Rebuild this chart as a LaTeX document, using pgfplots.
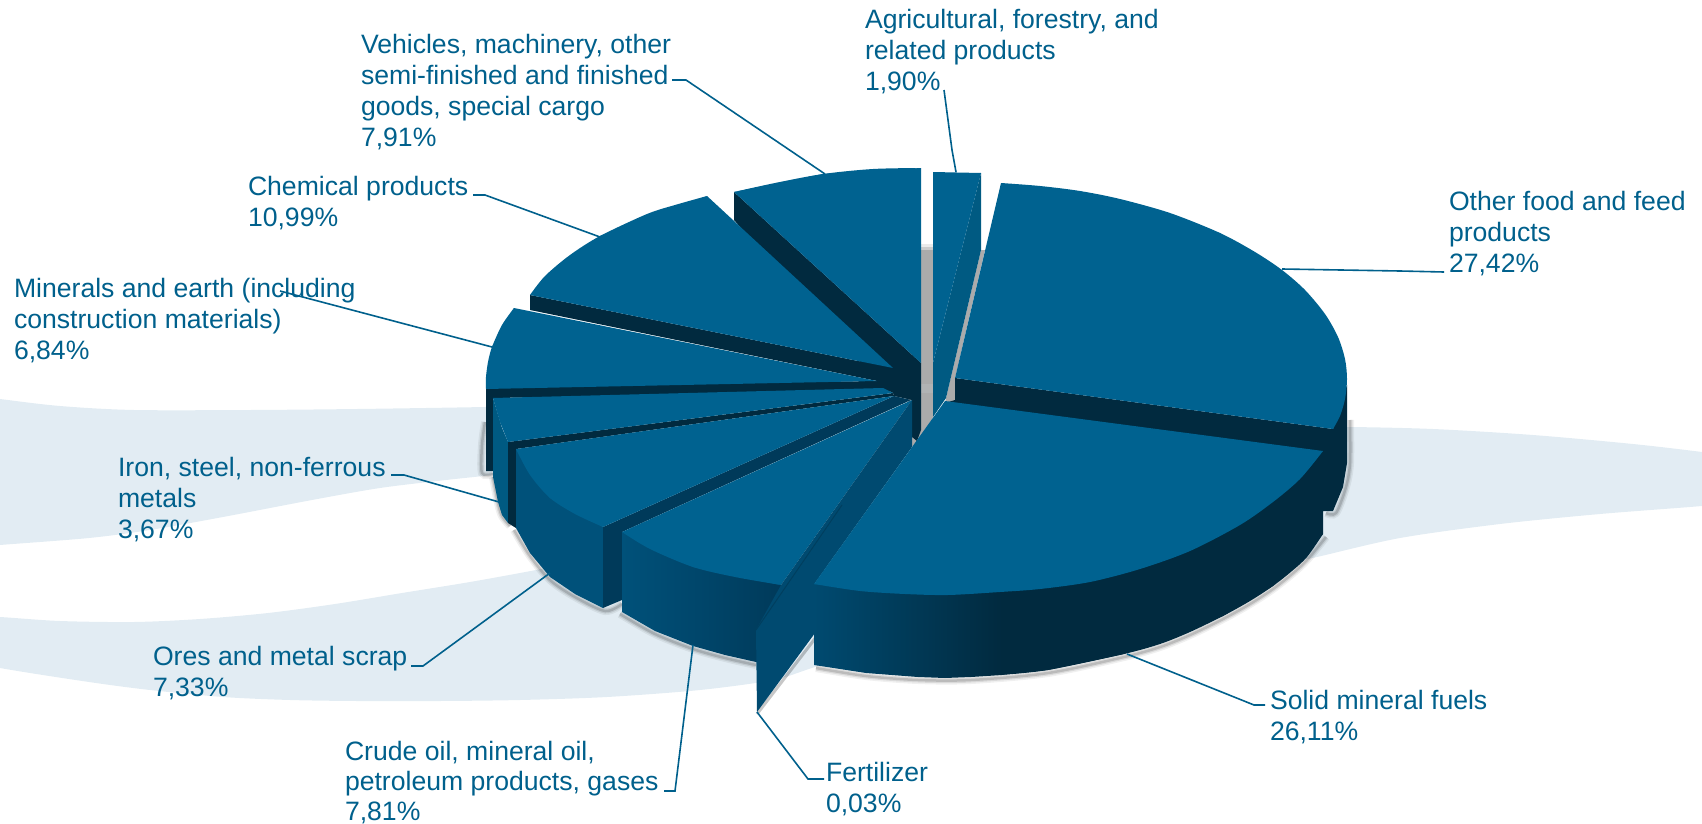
\documentclass[border=0pt]{standalone}
\usepackage{pgfplots}
\pgfplotsset{compat=1.18}
\usepackage{fontspec}
\setmainfont{Liberation Sans}
\definecolor{face}{HTML}{006290}
\definecolor{darkwall}{HTML}{012A3F}
\definecolor{midwall}{HTML}{003A5A}
\definecolor{wallA}{HTML}{005A82}
\definecolor{wallB}{HTML}{00517A}
\definecolor{wallC}{HTML}{004A70}
\definecolor{swoosh}{HTML}{E2ECF3}
\definecolor{ink}{HTML}{00608C}
% flat polygon, and the bulge of a rim drawn as a smooth curve
\newcommand\poly[2]{\addplot[fill=#1,draw=none] coordinates {#2};}
\newcommand\rim[2]{\addplot[fill=#1,draw=none,smooth] coordinates {#2};}
% soft contact shadow along a rim
\newcommand\soft[1]{%
  \addplot[draw=black,opacity=0.06,line width=8pt,smooth,fill=none] coordinates {#1};
  \addplot[draw=black,opacity=0.09,line width=5pt,smooth,fill=none] coordinates {#1};
  \addplot[draw=black,opacity=0.14,line width=2.5pt,smooth,fill=none] coordinates {#1};}
\newcommand\leader[1]{\addplot[draw=ink,line width=1.6pt,fill=none] coordinates {#1};}
\begin{document}
\begin{tikzpicture}
\useasboundingbox (0,0) rectangle (1702pt,824pt);
\clip (0,0) rectangle (1702pt,824pt);
\begin{axis}[
  at={(0,0)},anchor=south west,
  width=1702pt,height=824pt,scale only axis,
  xmin=0,xmax=1702,ymin=0,ymax=824,y dir=reverse,
  hide axis,no markers,clip=true,
  nodes={font=\fontsize{26.6}{31}\selectfont,text=ink,inner sep=0pt,outer sep=0pt,align=left,anchor=north west},
]
% swooshes behind the pie
\rim{swoosh}{(-120,385)(-60,391)(0,399)(60,406)(134,410)(250,410)(357,409)(485,407)(560,405)(640,403)(640,450)(560,465)(491,475)(446,480)(380,488)(312,500)(223,517)(150,530)(89,538)(0,545)(-60,550)(-120,552)}
\rim{swoosh}{(-120,612)(-60,614)(0,617)(60,621)(134,622)(200,619)(268,613)(335,604)(402,593)(470,582)(536,570)(640,550)(800,560)(950,600)(900,640)(815,667)(773,680)(700,690)(607,697)(520,700)(440,701)(357,701)(290,700)(223,697)(150,690)(89,682)(0,668)(-60,655)(-120,640)}
\rim{swoosh}{(1250,430)(1300,428)(1347,427)(1433,429)(1533,435)(1633,444)(1702,452)(1760,460)(1820,470)(1820,490)(1760,500)(1702,506)(1600,514)(1500,524)(1400,538)(1317,557)(1280,565)(1260,570)}
% shadow in the gaps at the centre
\poly{black!8}{(921,244)(933,244)(933,248)(921,248)}
\poly{black!20}{(921,247)(933,247)(933,251)(921,251)}
\poly{black!33}{(921,250)(933,250)(933,417)(921,445)(908,447)(908,400)}
\poly{black!33}{(981,250)(985,250)(955,378)(955,402)(945,403)(946,398)}
\addplot[fill=swoosh!60!black!60,draw=none,opacity=.5] coordinates {(921,384)(933,384)(933,393)(921,393)};
% contact shadows on the outer rims
\soft{(816,668)(866,676)(918,680)(971,680)(1048,673)(1124,657)(1160,647)(1190,635)(1223,619)(1250,604)(1273,589)(1292,574)(1307,560)(1326,537)}
\soft{(1350,420)(1350,463)(1346,487)(1336,513)(1326,513)}
\soft{(620,614)(655,634)(693,649)(725,658)(756,665)}
\soft{(514,530)(530,556)(550,580)(575,597)(605,611)(622,604)}
\soft{(493,477)(498,503)(502,516)(510,526)}
\soft{(485,422)(482,445)(482,473)(493,474)}
\addplot[draw=black,opacity=0.22,line width=3pt,fill=none] coordinates {(757,714)(817,636)};
% Vehicles slice and the dark mass at the centre
\poly{darkwall}{(734,192)(921,363)(921,430)(917,441)(912,437)(912,400)(894,396)(893,393)(883,388)(877,381)(734,220)}
\poly{face}{(734,192)(823,174)(921,168)(921,363)}
\rim{face}{(734,192)(775,183)(823,174)(873,169)(921,168)}
% Chemical products
\poly{darkwall}{(530,295)(893,368)(877,381)(530,310)}
\poly{face}{(707,196)(893,368)(530,295)(600,236)}
\rim{face}{(530,295)(545,276)(570,255)(600,236)(647,214)(675,205)(707,196)}
% Minerals and earth
\poly{darkwall}{(486,385)(883,381)(890,392)(493,398)(493,471)(486,471)}
\poly{face}{(514,308)(877,381)(486,389)(492,347)}
\rim{face}{(514,308)(502,325)(492,347)(488,362)(486,377)(486,389)}
% Iron, steel, non-ferrous metals
\poly{wallA}{(493,398)(502,428)(508,442)(508,523)(502,515)(498,502)(493,477)}
\poly{darkwall}{(508,442)(893,393)(894,396)(516,449)(516,528)(508,523)}
\poly{face}{(493,398)(883,388)(893,393)(508,442)(500,422)}
% Ores and metal scrap
\poly{wallB}{(516,449)(603,527)(603,608)(575,594)(550,577)(530,553)(516,528)}
\poly{midwall}{(603,527)(894,396)(911,400)(622,532)(622,600)(603,608)}
\poly{face}{(516,449)(894,396)(603,527)(550,498)}
\rim{face}{(516,449)(530,475)(550,498)(575,514)(603,527)}
% Crude oil, with its shaded rim
\addplot[draw=none,left color=wallB,right color=midwall] coordinates {(622,532)(781,532)(781,668)(756,662)(725,655)(693,646)(655,631)(622,612)};
\poly{face}{(622,532)(912,400)(781,585)(693,567)}
\rim{face}{(622,532)(650,549)(693,567)(735,577)(781,585)}
% Fertilizer, a sliver seen nearly edge-on
\poly{wallC}{(912,400)(781,585)(756,630)(757,712)(815,633)(815,583)(912,447)}
\addplot[draw=wallC!85!black,line width=1pt,fill=none] coordinates {(756,630)(842,505)};
% Solid mineral fuels and Other food and feed walls
\poly{darkwall}{(955,378)(1333,429)(1347,385)(1347,463)(1343,487)(1333,511)(1323,511)(1323,534)(1273,586)(1223,616)(1124,654)(1048,670)(1000,675)(1000,500)(945,403)(955,400)}
\rim{darkwall}{(1000,675)(1048,670)(1124,654)(1160,644)(1190,632)(1223,616)(1250,601)(1273,586)(1292,571)(1307,557)(1323,534)}
\addplot[draw=none,left color=wallC,right color=darkwall] coordinates {(814,584)(1002,584)(1002,675)(971,677)(945,678)(918,677)(892,675)(866,673)(840,669)(814,665)};
% Agricultural slice
\poly{wallA}{(981,173)(981,250)(946,398)(933,417)(933,363)}
\poly{face}{(933,172)(981,173)(933,363)}
% Other food and feed products
\poly{face}{(955,378)(1001,183)(1220,233)(1347,379)(1333,429)}
\rim{face}{(1001,183)(1040,186)(1080,191)(1120,199)(1170,213)(1220,233)(1255,252)(1282,270)(1305,290)(1325,314)(1338,337)(1345,359)(1347,379)(1345,399)(1340,416)(1333,429)}
% Solid mineral fuels
\poly{face}{(945,401)(1323,451)(1048,588)(814,584)}
\rim{face}{(814,584)(860,591)(905,594)(948,595)(1000,592)(1040,589)(1090,582)(1140,569)(1190,551)(1240,525)(1273,502)(1300,479)(1323,451)}
% leader lines
\leader{(944,90)(952,150)(956,172)}
\leader{(1282,269)(1400,271)(1444,272)}
\leader{(672,80)(686,80)(825,174)}
\leader{(473,195)(485,195)(600,237)}
\leader{(280,291)(492,347)}
\leader{(391,475)(404,475)(499,502)}
\leader{(411,666)(423,666)(550,573)}
\leader{(664,791)(675,791)(693,645)}
\leader{(757,712)(808,779)(824,779)}
\leader{(1127,654)(1254,705)(1265,705)}
% labels
\node at (axis cs:865,9) {Agricultural, forestry, and\\related products\\1,90\%};
\node at (axis cs:1449,191) {Other food and feed\\products\\27,42\%};
\node at (axis cs:361,34) {Vehicles, machinery, other\\semi-finished and finished\\goods, special cargo\\7,91\%};
\node at (axis cs:248,176) {Chemical products\\10,99\%};
\node at (axis cs:14,278) {Minerals and earth (including\\construction materials)\\6,84\%};
\node at (axis cs:118,457) {Iron, steel, non-ferrous\\metals\\3,67\%};
\node at (axis cs:153,646) {Ores and metal scrap\\7,33\%};
\node at (axis cs:345,741) {Crude oil, mineral oil,\\[-1pt]petroleum products, gases\\[-1pt]7,81\%};
\node at (axis cs:826,762) {Fertilizer\\0,03\%};
\node at (axis cs:1270,690) {Solid mineral fuels\\26,11\%};
\end{axis}
\end{tikzpicture}
\end{document}
